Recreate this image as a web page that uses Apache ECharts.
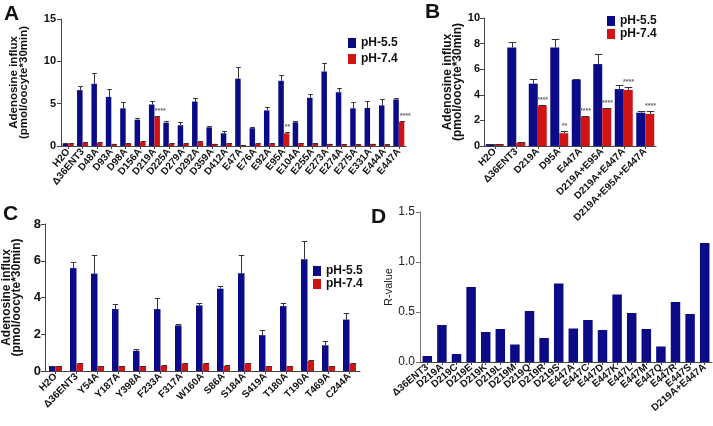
<!DOCTYPE html>
<html><head><meta charset="utf-8">
<script src="https://cdn.jsdelivr.net/npm/echarts@6/dist/echarts.min.js"></script>
<style>html,body{margin:0;padding:0;background:#fff}#c{width:713px;height:426px}</style>
</head><body><div id="c"></div>
<script>
// ---------- Panel A ----------
const aCats = ['H2O','Δ36ENT3','D48A','D93A','D98A','D156A','D219A','D225A','D279A','D292A','D359A','D412A','E47A','E76A','E92A','E95A','E104A','E255A','E273A','E274A','E275A','E331A','E444A','E447A'];
const a55 = [0.3,6.6,7.35,5.8,4.45,3.1,4.9,2.75,2.45,5.25,2.2,1.5,7.95,2.1,4.2,7.7,2.8,5.7,8.8,6.35,4.45,4.5,4.8,5.5];
const a55err = [0.05,0.5,1.25,0.9,0.75,0.2,0.4,0.2,0.4,0.45,0.2,0.3,1.35,0.1,0.4,0.65,0.2,0.4,0.95,0.5,0.7,0.8,0.8,0.15];
const a74 = [0.3,0.4,0.4,0.25,0.3,0.5,3.5,0.3,0.3,0.5,0.25,0.35,0.1,0.3,0.3,1.5,0.35,0.35,0.25,0.2,0.2,0.25,0.2,2.85];
const a74err = [0.05,0.05,0.05,0.03,0.03,0.05,0.1,0.03,0.03,0.05,0.03,0.03,0.02,0.03,0.03,0.1,0.05,0.05,0.03,0.03,0.03,0.03,0.03,0.15];
const a74sig = ['','','','','','','****','','','','','','','','','**','','','','','','','','****'];
const aTicks = [0,5,10,15];
// ---------- Panel B ----------
const bCats = ['H2O','Δ36ENT3','D219A','D95A','E447A','D219A+E95A','D219A+E447A','D219A+E95A+E447A'];
const b55 = [0.15,7.7,4.87,7.7,5.17,6.4,4.45,2.6];
const b55err = [0.02,0.45,0.35,0.65,0.08,0.8,0.3,0.1];
const b74 = [0.15,0.25,3.13,1.0,2.27,2.97,4.38,2.5];
const b74err = [0.02,0.03,0.04,0.15,0.1,0.03,0.22,0.25];
const b74sig = ['','','****','**','****','****','****','****'];
const bTicks = [0,2,4,6,8,10];
// ---------- Panel C ----------
const cCats = ['H2O','Δ36ENT3','Y54A','Y187A','Y398A','F233A','F317A','W160A','S86A','S184A','S419A','T180A','T190A','T469A','C244A'];
const c55 = [0.27,5.6,5.3,3.37,1.1,3.37,2.48,3.57,4.48,5.32,1.95,3.53,6.08,1.4,2.8];
const c55err = [0.02,0.35,1.0,0.25,0.1,0.58,0.1,0.15,0.17,0.98,0.27,0.15,0.97,0.22,0.35];
const c74 = [0.27,0.4,0.27,0.27,0.27,0.28,0.4,0.4,0.27,0.4,0.27,0.27,0.55,0.27,0.4];
const c74err = [0.02,0.05,0.02,0.02,0.02,0.05,0.05,0.02,0.05,0.05,0.02,0.02,0.05,0.02,0.05];
const cTicks = [0,2,4,6,8];
// ---------- Panel D ----------
const dCats = ['Δ36ENT3','D219A','D219C','D219E','D219K','D219L','D219M','D219Q','D219R','D219S','E447A','E447C','E447D','E447K','E447L','E447M','E447Q','E447R','E447S','D219A+E447A'];
const dVals = [0.06,0.37,0.08,0.75,0.30,0.33,0.175,0.51,0.24,0.785,0.335,0.42,0.32,0.675,0.49,0.33,0.155,0.60,0.48,1.19];
const dTicks = [0,0.5,1.0,1.5];

const legendNames = ['pH-5.5','pH-7.4'];
const BLUE = '#0b0b88', RED = '#d01414';
const FF = '"Liberation Sans", Arial, sans-serif';

const chart = echarts.init(document.getElementById('c'), null, {renderer:'canvas'});

function errSeries(name, gi, vals, errs, w, side, sig, align){
  return {
    type:'custom', name:name+'-err', xAxisIndex:gi, yAxisIndex:gi, silent:true, z:5,
    data: vals.map((v,i)=>[i,v,errs[i]]),
    renderItem:function(params, api){
      const i = api.value(0), v = api.value(1), e = api.value(2);
      const b = api.coord([i, v]), t = api.coord([i, v+e]);
      const x = Math.round(b[0] + side*w/2) + 0.5;
      const cap = Math.max(2, w*0.42);
      const ty = Math.round(t[1]) + 0.5;
      const ch = [
        {type:'line', shape:{x1:x,y1:b[1],x2:x,y2:ty}, style:{stroke:'#333',lineWidth:1}},
        {type:'line', shape:{x1:x-cap,y1:ty,x2:x+cap,y2:ty}, style:{stroke:'#333',lineWidth:1}}
      ];
      const s = sig ? sig[params.dataIndex] : '';
      if (s) {
        ch.push({type:'text', x: align==='left' ? x - w/2 : x, y: ty - 2,
          style:{text:s, fill:'#666', font:'bold 7px '+FF, textAlign: align==='left'?'left':'center', textVerticalAlign:'bottom'}});
      }
      return {type:'group', children:ch};
    }
  };
}

function yAxis(gi, ticks, opts){
  return Object.assign({
    type:'value', gridIndex:gi, min:ticks[0], max:ticks[ticks.length-1], interval:ticks[1]-ticks[0],
    splitLine:{show:false},
    axisLine:{show:true, lineStyle:{color:'#444', width:1}},
    axisTick:{show:true, inside:false, length:4, lineStyle:{color:'#444'}},
    nameLocation:'middle'
  }, opts);
}
function xAxis(gi, cats, rot, fs){
  return {
    type:'category', gridIndex:gi, data:cats,
    axisLine:{show:true, lineStyle:{color:'#444', width:1}},
    axisTick:{show:true, alignWithLabel:true, length:3, lineStyle:{color:'#444'}},
    axisLabel:{rotate:rot, interval:0, margin:4, color:'#111', fontFamily:FF, fontWeight:'bold', fontSize:fs}
  };
}
function legend(left, top, gap){
  return {data:legendNames, orient:'vertical', left:left, top:top, padding:0, itemWidth:8, itemHeight:10, itemGap:gap,
    icon:'rect', selectedMode:false, textStyle:{fontFamily:FF, fontWeight:'bold', fontSize:12, color:'#111'}};
}

const option = {
  animation:false,
  backgroundColor:'#fff',
  textStyle:{fontFamily:FF},
  grid:[
    {left:42, top:19, width:364, height:127},
    {left:484, top:18, width:172, height:128},
    {left:42, top:224, width:318, height:147},
    {left:420, top:212, width:292, height:150}
  ],
  xAxis:[
    xAxis(0, aCats, 50, 10),
    xAxis(1, bCats, 45, 10),
    xAxis(2, cCats, 45, 10),
    xAxis(3, dCats, 40, 10)
  ],
  yAxis:[
    yAxis(0, aTicks, {name:'Adenosine influx\n(pmol/oocyte*30min)', nameGap:32,
      nameTextStyle:{fontFamily:FF, fontWeight:'bold', fontSize:11.5, lineHeight:10, color:'#111'},
      axisLabel:{margin:5, color:'#111', fontFamily:FF, fontWeight:'bold', fontSize:11}}),
    yAxis(1, bTicks, {name:'Adenosine influx\n(pmol/oocyte*30min)', nameGap:12,
      nameTextStyle:{fontFamily:FF, fontWeight:'bold', fontSize:12, lineHeight:10, color:'#111'},
      axisLabel:{margin:4, color:'#111', fontFamily:FF, fontWeight:'bold', fontSize:11}}),
    yAxis(2, cTicks, {name:'Adenosine influx\n(pmol/oocyte*30min)', nameGap:23,
      nameTextStyle:{fontFamily:FF, fontWeight:'bold', fontSize:12, lineHeight:10, color:'#111'},
      axisLabel:{margin:4, color:'#111', fontFamily:FF, fontWeight:'bold', fontSize:13}}),
    yAxis(3, dTicks, {name:'R-value', nameGap:23,
      axisLine:{show:true, lineStyle:{color:'#777', width:1}},
      axisTick:{show:true, length:4, lineStyle:{color:'#777'}},
      nameTextStyle:{fontFamily:FF, fontSize:11, color:'#222'},
      axisLabel:{margin:5, color:'#222', fontFamily:FF, fontSize:12, formatter:v=>v.toFixed(1)}})
  ],
  legend:[ legend(348, 37, 4), legend(607, 15, 1), legend(313, 265, 1) ],
  graphic:[
    {type:'text', left:4, top:4, style:{text:'A', font:'bold 21px '+FF, fill:'#111'}},
    {type:'text', left:425, top:2, style:{text:'B', font:'bold 21px '+FF, fill:'#111'}},
    {type:'text', left:3, top:204, style:{text:'C', font:'bold 21px '+FF, fill:'#111'}},
    {type:'text', left:371, top:207, style:{text:'D', font:'bold 21px '+FF, fill:'#111'}}
  ],
  series:[
    {type:'bar', name:'pH-5.5', xAxisIndex:0, yAxisIndex:0, data:a55, barWidth:5.5, barGap:'0%', itemStyle:{color:BLUE}},
    {type:'bar', name:'pH-7.4', xAxisIndex:0, yAxisIndex:0, data:a74, barWidth:5.5, barGap:'0%', itemStyle:{color:RED}},
    errSeries('a55',0,a55,a55err,5.5,-1,null),
    errSeries('a74',0,a74,a74err,5.5,1,a74sig,'left'),

    {type:'bar', name:'pH-5.5', xAxisIndex:1, yAxisIndex:1, data:b55, barWidth:9, barGap:'0%', itemStyle:{color:BLUE}},
    {type:'bar', name:'pH-7.4', xAxisIndex:1, yAxisIndex:1, data:b74, barWidth:9, barGap:'0%', itemStyle:{color:RED}},
    errSeries('b55',1,b55,b55err,9,-1,null),
    errSeries('b74',1,b74,b74err,9,1,b74sig,'center'),

    {type:'bar', name:'pH-5.5', xAxisIndex:2, yAxisIndex:2, data:c55, barWidth:6.5, barGap:'0%', itemStyle:{color:BLUE}},
    {type:'bar', name:'pH-7.4', xAxisIndex:2, yAxisIndex:2, data:c74, barWidth:6.5, barGap:'0%', itemStyle:{color:RED}},
    errSeries('c55',2,c55,c55err,6.5,-1,null),
    errSeries('c74',2,c74,c74err,6.5,1,null),

    {type:'bar', name:'R-value', xAxisIndex:3, yAxisIndex:3, data:dVals, barWidth:9.5, itemStyle:{color:BLUE}}
  ]
};
chart.setOption(option);
</script></body></html>
